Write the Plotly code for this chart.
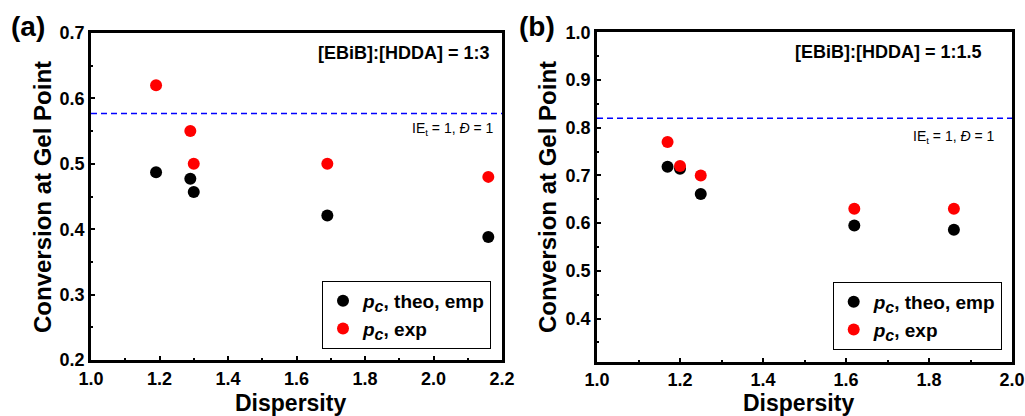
import plotly.graph_objects as go

W, H = 1025, 416

# Panel (a): [EBiB]:[HDDA] = 1:3
a_disp = [1.19, 1.29, 1.30, 1.69, 2.16]
a_theo = [0.487, 0.477, 0.457, 0.421, 0.388]
a_exp = [0.62, 0.55, 0.50, 0.50, 0.48]
a_ideal = 0.577

# Panel (b): [EBiB]:[HDDA] = 1:1.5
b_disp = [1.17, 1.20, 1.25, 1.62, 1.86]
b_theo = [0.718, 0.714, 0.661, 0.595, 0.586]
b_exp = [0.77, 0.72, 0.70, 0.63, 0.63]
b_ideal = 0.82

a_xticks = [1.0, 1.2, 1.4, 1.6, 1.8, 2.0, 2.2]
a_yticks = [0.2, 0.3, 0.4, 0.5, 0.6, 0.7]
b_xticks = [1.0, 1.2, 1.4, 1.6, 1.8, 2.0]
b_yticks = [0.4, 0.5, 0.6, 0.7, 0.8, 0.9, 1.0]

FONT = "Liberation Sans, Arial, sans-serif"
PC = "<i>p<sub><span style='font-size:16px'>c</span></sub></i>"
lab_theo = f"<b>{PC}, theo, emp</b>"
lab_exp = f"<b>{PC}, exp</b>"

fig = go.Figure()
fig.add_trace(go.Scatter(x=a_disp, y=a_theo, mode="markers", name=lab_theo,
                         marker=dict(color="black", size=12), xaxis="x", yaxis="y", legend="legend"))
fig.add_trace(go.Scatter(x=a_disp, y=a_exp, mode="markers", name=lab_exp,
                         marker=dict(color="#ff0000", size=12), xaxis="x", yaxis="y", legend="legend"))
fig.add_trace(go.Scatter(x=b_disp, y=b_theo, mode="markers", name=lab_theo,
                         marker=dict(color="black", size=12), xaxis="x2", yaxis="y2", legend="legend2"))
fig.add_trace(go.Scatter(x=b_disp, y=b_exp, mode="markers", name=lab_exp,
                         marker=dict(color="#ff0000", size=12), xaxis="x2", yaxis="y2", legend="legend2"))

axis_common = dict(showline=True, linewidth=2.8, linecolor="black", mirror=True,
                   ticks="inside", ticklen=4, tickwidth=2, tickcolor="black",
                   showgrid=False, zeroline=False, automargin=False,
                   tickfont=dict(family=FONT, size=18, color="black", weight="bold"))
minor_common = dict(ticks="inside", ticklen=2, tickwidth=2, tickcolor="black")

fig.update_layout(
    template="none",
    width=W, height=H, autosize=False,
    margin=dict(l=0, r=0, t=0, b=0, pad=0),
    paper_bgcolor="white", plot_bgcolor="white",
    font=dict(family=FONT, color="black"),
    xaxis=dict(domain=[91 / W, 502 / W], range=[1.0, 2.2], tickvals=a_xticks,
               ticktext=[f"{v:.1f}" for v in a_xticks], anchor="y",
               minor=dict(dtick=0.1, **minor_common), **axis_common),
    yaxis=dict(domain=[1 - 360 / H, 1 - 33 / H], range=[0.2, 0.7], tickvals=a_yticks,
               ticktext=[f"{v:.1f}" for v in a_yticks], anchor="x",
               minor=dict(dtick=0.05, **minor_common), **axis_common),
    xaxis2=dict(domain=[597 / W, 1012 / W], range=[1.0, 2.0], tickvals=b_xticks,
                ticktext=[f"{v:.1f}" for v in b_xticks], anchor="y2",
                minor=dict(dtick=0.1, **minor_common), **axis_common),
    yaxis2=dict(domain=[1 - 361.5 / H, 1 - 32.3 / H], range=[0.31, 1.0], tickvals=b_yticks,
                ticktext=[f"{v:.1f}" for v in b_yticks], anchor="x2",
                minor=dict(dtick=0.05, **minor_common), **axis_common),
    legend=dict(x=491 / W, y=1 - 349 / H, xanchor="right", yanchor="bottom",
                bordercolor="black", borderwidth=1, bgcolor="white",
                font=dict(family=FONT, size=19, color="black")),
    legend2=dict(x=1001.7 / W, y=1 - 350 / H, xanchor="right", yanchor="bottom",
                 bordercolor="black", borderwidth=1, bgcolor="white",
                 font=dict(family=FONT, size=19, color="black")),
)

# Reference dashed lines (IE_t = 1, Đ = 1)
for ax, yv in (("x", a_ideal), ("x2", b_ideal)):
    yref = "y" if ax == "x" else "y2"
    fig.add_shape(type="line", xref=f"{ax} domain", yref=yref, x0=0, x1=1, y0=yv, y1=yv,
                  line=dict(color="#0000ff", width=1.4, dash="6px,4px"))

ann = []
def A(text, x, y, size, xanchor="center", yanchor="middle", bold=False, angle=0):
    ann.append(dict(text=text, x=x / W, y=1 - y / H, xref="paper", yref="paper",
                    xanchor=xanchor, yanchor=yanchor, showarrow=False, textangle=angle,
                    font=dict(family=FONT, size=size, color="black",
                              weight="bold" if bold else "normal")))

A("(a)", 28, 27, 28, bold=True)
A("(b)", 537, 27, 28, bold=True)
A("Conversion at Gel Point", 42, 197, 24, bold=True, angle=-90)
A("Conversion at Gel Point", 547, 197, 24, bold=True, angle=-90)
A("Dispersity", 290, 402.5, 23, bold=True)
A("Dispersity", 798, 402.5, 23, bold=True)
A("[EBiB]:[HDDA] = 1:3", 492, 53, 18, xanchor="right", bold=True)
A("[EBiB]:[HDDA] = 1:1.5", 984, 52, 18, xanchor="right", bold=True)
A("IE<sub>t</sub> = 1, <i>Đ</i> = 1", 496, 129, 14, xanchor="right")
A("IE<sub>t</sub> = 1, <i>Đ</i> = 1", 997, 137, 14, xanchor="right")
fig.update_layout(annotations=ann)

fig.write_html("out.html", config={"displayModeBar": False},
               post_script="document.body.style.margin='0';document.body.style.overflow='hidden';")
